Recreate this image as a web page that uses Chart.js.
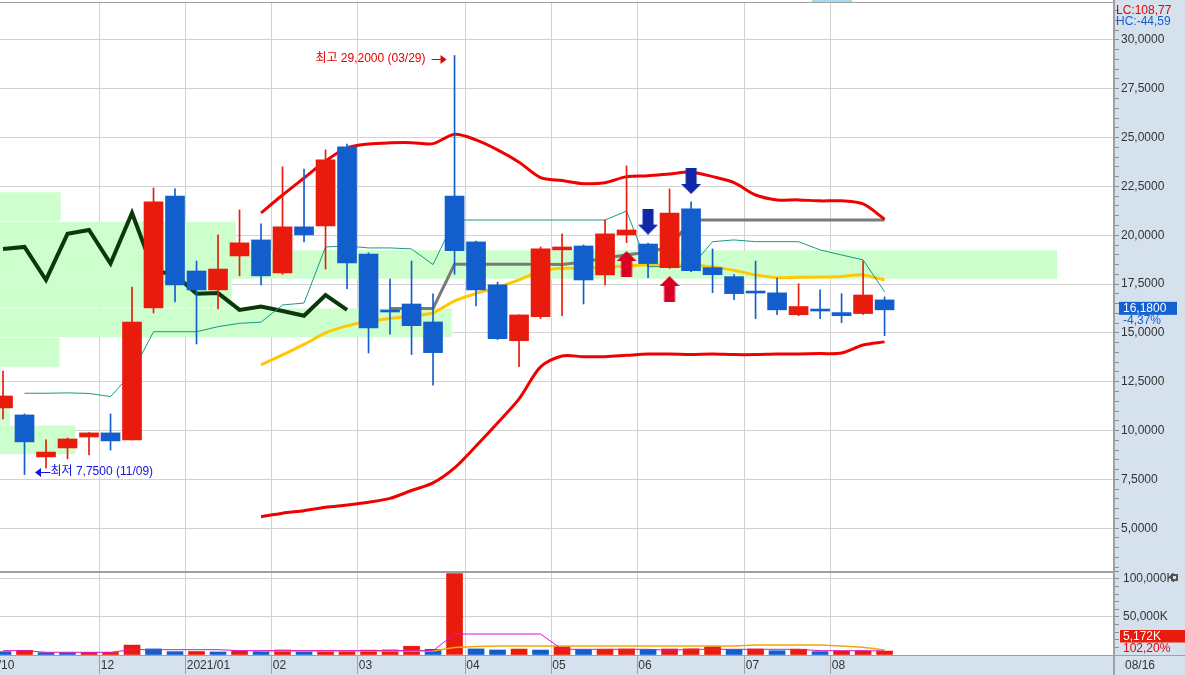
<!DOCTYPE html>
<html lang="ko">
<head>
<meta charset="utf-8">
<title>주봉 차트</title>
<script src="https://cdn.jsdelivr.net/npm/chart.js@4.4.1/dist/chart.umd.min.js"></script>
<style>
  html, body { margin: 0; padding: 0; background: #fff; }
  #wrap { position: relative; width: 1185px; height: 675px; overflow: hidden; background: #fff; }
  #price { position: absolute; left: 0; top: 0; }
  #volume { position: absolute; left: 0; top: 571px; }
</style>
</head>
<body>
<div id="wrap">
  <canvas id="price" width="1185" height="571"></canvas>
  <canvas id="volume" width="1185" height="104"></canvas>
</div>
<script>
// weekly candles (week start dates)
const weeks = [
  '2020-11-02', '2020-11-09', '2020-11-16', '2020-11-23', '2020-11-30', '2020-12-07', '2020-12-14',
  '2020-12-21', '2020-12-28', '2021-01-04', '2021-01-11', '2021-01-18', '2021-01-25', '2021-02-01',
  '2021-02-08', '2021-02-15', '2021-02-22', '2021-03-01', '2021-03-08', '2021-03-15', '2021-03-22',
  '2021-03-29', '2021-04-05', '2021-04-12', '2021-04-19', '2021-04-26', '2021-05-03', '2021-05-10',
  '2021-05-17', '2021-05-24', '2021-05-31', '2021-06-07', '2021-06-14', '2021-06-21', '2021-06-28',
  '2021-07-05', '2021-07-12', '2021-07-19', '2021-07-26', '2021-08-02', '2021-08-09', '2021-08-16'
];

const openPrice = [11.16, 10.80, 8.65, 9.11, 9.67, 9.88, 9.52, 16.28, 22.01, 18.17, 17.20, 18.94, 19.76, 18.07,
  20.43, 20.48, 24.52, 19.04, 16.10, 16.48, 15.56, 22.01, 19.66, 17.46, 14.60, 15.83, 19.25, 19.45,
  17.97, 20.02, 19.55, 18.34, 21.35, 18.34, 17.88, 17.08, 17.05, 15.93, 16.16, 16.04, 15.99, 16.69];
const highPrice = [13.05, 10.85, 9.52, 9.62, 9.90, 10.85, 17.35, 22.42, 22.37, 18.68, 20.02, 21.30, 20.58, 23.50,
  23.39, 24.37, 24.67, 19.10, 17.76, 18.68, 17.00, 29.20, 19.70, 17.60, 15.92, 19.40, 20.07, 19.50,
  20.78, 23.55, 19.60, 22.37, 21.71, 19.30, 17.99, 18.68, 17.81, 17.52, 17.21, 17.01, 18.68, 16.84];
const lowPrice = [10.59, 7.75, 8.08, 8.55, 8.75, 9.00, 9.52, 16.02, 16.58, 14.43, 16.23, 17.92, 17.46, 18.00,
  19.66, 18.27, 17.26, 13.97, 14.94, 13.89, 12.32, 18.00, 16.38, 14.66, 13.27, 15.73, 15.88, 16.48,
  17.46, 19.62, 17.83, 18.30, 18.14, 17.06, 16.70, 15.73, 15.93, 15.88, 15.73, 15.52, 15.94, 14.86];
const closePrice = [11.77, 9.42, 8.90, 9.57, 9.88, 9.47, 15.56, 21.71, 17.46, 17.20, 18.27, 19.61, 17.92, 20.43,
  20.02, 23.86, 18.58, 15.25, 16.07, 15.37, 13.99, 19.21, 17.20, 14.71, 15.92, 19.30, 19.40, 17.71,
  20.07, 20.27, 18.55, 21.14, 18.19, 17.98, 17.01, 17.04, 16.18, 16.35, 16.12, 15.88, 16.94, 16.18];

// envelope bands (red), conversion line (teal), base line (gray), average (yellow), lagging line (dark green)
const upperBand = [null, null, null, null, null, null, null, null, null, null, null, null,
  21.14, 22.06, 22.93, 23.80, 24.47, 24.67, 24.73, 24.74, 24.69, 25.17, 24.88, 24.37, 23.74, 22.95,
  22.80, 22.64, 22.69, 23.00, 23.05, 23.14, 23.23, 23.00, 22.69, 22.06, 21.81, 21.81, 21.76, 21.76, 21.60, 20.82];
const lowerBand = [null, null, null, null, null, null, null, null, null, null, null, null,
  5.59, 5.77, 5.90, 6.07, 6.19, 6.33, 6.53, 6.93, 7.32, 8.09, 9.21, 10.39, 11.62, 13.26,
  13.82, 13.78, 13.78, 13.85, 13.92, 13.92, 13.90, 13.92, 13.89, 13.89, 13.92, 13.92, 13.94, 13.97, 14.38, 14.54];
const conversionLine = [null, 11.91, 11.91, 11.93, 11.90, 11.74, 12.95, 15.06, 15.06, 15.06, 15.32, 15.49, 15.55,
  16.43, 16.53, 19.40, 19.45, 19.35, 19.35, 19.30, 18.50, 20.78, 20.78, 20.78, 20.78, 20.78, 20.78, 20.78,
  20.78, 21.24, 18.39, 18.39, 18.39, 19.67, 19.76, 19.67, 19.67, 19.67, 19.25, 18.99, 18.74, 17.11];
const baseLine = [null, null, null, null, null, null, null, null, null, null, null, null, null, null, null,
  null, null, null, 16.25, 16.25, 16.25, 18.51, 18.51, 18.51, 18.51, 18.51, 18.50, 18.63, 18.84, 18.99,
  19.14, 19.39, 20.78, 20.78, 20.78, 20.78, 20.78, 20.78, 20.78, 20.78, 20.78, 20.78];
const averageLine = [null, null, null, null, null, null, null, null, null, null, null, null,
  13.36, 13.87, 14.41, 15.00, 15.36, 15.60, 15.74, 15.87, 16.02, 16.64, 17.02, 17.33, 17.71, 18.17,
  18.31, 18.33, 18.36, 18.43, 18.48, 18.48, 18.48, 18.38, 18.20, 17.97, 17.83, 17.85, 17.86, 17.89, 17.97, 17.71];
const laggingLine = [19.30, 19.40, 17.71, 20.07, 20.27, 18.55, 21.14, 18.19, 17.98, 17.01, 17.04, 16.18,
  16.35, 16.12, 15.88, 16.94, 16.18];

// volume by price (price band centre, share of the largest band in %)
const profilePrice = [21.47, 19.96, 18.50, 17.02, 15.51, 14.00, 12.49, 11.03, 9.52];
const profileVolume = [5.7, 22.3, 100, 21.9, 42.7, 5.6, 0, 0.9, 7.1];

// signal arrows
const buyWeeks = [29, 31];
const buyLevels = [18.53, 17.25];
const sellWeeks = [30, 32];
const sellLevels = [20.70, 22.78];

// weekly volume in K shares and its averages
const volume = [4400, 6200, 3100, 3000, 3200, 3300, 13000, 8000, 4400, 4600, 4000, 5300, 4400, 6600,
  4300, 4500, 4700, 6400, 6700, 11500, 7500, 107000, 8000, 6600, 7800, 6500, 10800, 7400, 7600, 7900,
  7300, 7900, 8100, 11000, 7400, 7900, 5600, 7600, 4400, 4800, 5061, 5172];
const volumeShort = [5700, 5700, 3600, 3600, 3600, 3600, 7000, 7000, 7000, 7000, 7000, 5700, 5700, 5700,
  5700, 5700, 5700, 5700, 5700, 5700, 5700, 27600, 27600, 27600, 27600, 27600, 7500, 7500, 7500, 7500,
  7500, 6200, 7500, 7500, 7500, 7500, 7500, 7500, 5700, 5700, 5700, 5300];
const volumeLong = [null, null, null, null, null, null, null, null, null, null, null, null,
  5300, 5300, 5300, 5300, 5300, 5300, 5300, 5300, 5300, 9900, 11200, 11800, 11800, 11800, 11800, 11800,
  11800, 11800, 11800, 11800, 11800, 11800, 11800, 13200, 13200, 13200, 13200, 11800, 10100, 6600];

// month marks on the time axis
const monthStarts = [5, 9, 13, 17, 22, 26, 30, 35, 39];
const monthLabels = ['12', '2021/01', '02', '03', '04', '05', '06', '07', '08'];

const lcValue = 108.77;
const hcValue = -44.59;
const changePct = -4.37;
const volumeRatioPct = 102.20;

const xMin = -0.14, xMax = 51.67;
const priceMin = 2.81, priceMax = 31.89;
const volumeMax = 110500;

const upColor = '#e81b0c';
const downColor = '#135ecd';
const panelColor = '#d6e1ee';
const gridColor = '#d2d2d2';
const frameColor = '#a0a0a0';
const numFont = "'Liberation Sans', sans-serif";
const textFont = "'Liberation Sans', 'Noto Sans CJK KR', sans-serif";

const fmt4 = v => v.toFixed(4).replace('.', ',');
const fmt2 = v => v.toFixed(2).replace('.', ',');
const mmdd = d => d.slice(5, 7) + '/' + d.slice(8, 10);
const isMajor = v => Math.abs(v / 2.5 - Math.round(v / 2.5)) < 1e-6;
const series = arr => arr.map((v, i) => ({ x: i, y: v }));

function makeArrow(color, down) {
    const c = document.createElement('canvas');
    c.width = 20;
    c.height = 26;
    const g = c.getContext('2d');
    if (down) {
        g.translate(0, 26);
        g.scale(1, -1);
    }
    g.fillStyle = color;
    g.beginPath();
    g.moveTo(10, 0);
    g.lineTo(20, 10);
    g.lineTo(15.5, 10);
    g.lineTo(15.5, 26);
    g.lineTo(4.5, 26);
    g.lineTo(4.5, 10);
    g.lineTo(0, 10);
    g.closePath();
    g.fill();
    return c;
}

function drawArrowHead(ctx, x, y, dir) {
    ctx.beginPath();
    ctx.moveTo(x, y);
    ctx.lineTo(x - 6 * dir, y - 4.5);
    ctx.lineTo(x - 6 * dir, y + 4.5);
    ctx.closePath();
    ctx.fill();
}

const candleColors = closePrice.map((c, i) => c >= openPrice[i] ? upColor : downColor);
const volumeColors = volume.map((v, i) => i > 0 && v > volume[i - 1] ? upColor : downColor);

// price pane frame, panel and annotations
const priceFrame = {
    id: 'priceFrame',
    beforeDraw(chart) {
        const { ctx, scales } = chart;
        ctx.save();
        ctx.fillStyle = panelColor;
        ctx.fillRect(scales.y.left, 0, chart.width - scales.y.left, chart.height);
        ctx.fillStyle = '#a6daf0';
        ctx.fillRect(812, 0, 40, 2);
        ctx.restore();
    },
    afterDraw(chart) {
        const { ctx, chartArea, scales: { x, y } } = chart;
        ctx.save();
        ctx.fillStyle = frameColor;
        ctx.fillRect(0, chartArea.top - 1, chartArea.right, 1);
        ctx.fillRect(chartArea.right - 1, 0, 2, chart.height);

        // highest / lowest marks
        const hiIdx = highPrice.indexOf(Math.max(...highPrice));
        const loIdx = lowPrice.indexOf(Math.min(...lowPrice));
        ctx.font = '12px ' + textFont;
        ctx.textBaseline = 'middle';

        const hx = x.getPixelForValue(hiIdx);
        const hy = y.getPixelForValue(highPrice[hiIdx]) + 3.5;
        ctx.fillStyle = '#e60000';
        ctx.strokeStyle = '#e60000';
        ctx.lineWidth = 1;
        ctx.textAlign = 'right';
        ctx.fillText('최고 ' + fmt4(highPrice[hiIdx]) + ' (' + mmdd(weeks[hiIdx]) + ')', hx - 29, hy);
        ctx.beginPath();
        ctx.moveTo(hx - 23, Math.round(hy) + 0.5);
        ctx.lineTo(hx - 12, Math.round(hy) + 0.5);
        ctx.stroke();
        drawArrowHead(ctx, hx - 8, Math.round(hy) + 0.5, 1);

        const lx = x.getPixelForValue(loIdx);
        const ly = y.getPixelForValue(lowPrice[loIdx]) - 2.5;
        ctx.fillStyle = '#1414e0';
        ctx.strokeStyle = '#1414e0';
        ctx.textAlign = 'left';
        ctx.fillText('최저 ' + fmt4(lowPrice[loIdx]) + ' (' + mmdd(weeks[loIdx]) + ')', lx + 26, ly);
        ctx.beginPath();
        ctx.moveTo(lx + 16, Math.round(ly) + 0.5);
        ctx.lineTo(lx + 26, Math.round(ly) + 0.5);
        ctx.stroke();
        drawArrowHead(ctx, lx + 10.5, Math.round(ly) + 0.5, -1);

        // right panel texts
        const px = chartArea.right + 2;
        ctx.font = '12px ' + numFont;
        ctx.fillStyle = '#e60000';
        ctx.fillText('LC:' + fmt2(lcValue), px, 11);
        ctx.fillStyle = '#1560d0';
        ctx.fillText('HC:' + fmt2(hcValue), px, 22);

        const last = closePrice[closePrice.length - 1];
        const by = y.getPixelForValue(last) - 1.5;
        ctx.fillStyle = '#1560d0';
        ctx.fillRect(chartArea.right + 5, by - 6.5, 58, 13);
        ctx.fillStyle = '#ffffff';
        ctx.fillText(fmt4(last), chartArea.right + 9, by);
        ctx.fillStyle = '#1560d0';
        ctx.fillText(fmt2(changePct) + '%', chartArea.right + 9, by + 12);
        ctx.restore();
    }
};

const volumeFrame = {
    id: 'volumeFrame',
    beforeDraw(chart) {
        const { ctx, chartArea } = chart;
        ctx.save();
        ctx.fillStyle = panelColor;
        ctx.fillRect(chartArea.right, 0, chart.width - chartArea.right, chart.height);
        ctx.fillRect(0, chartArea.bottom, chart.width, chart.height - chartArea.bottom);
        ctx.restore();
    },
    afterDraw(chart) {
        const { ctx, chartArea } = chart;
        ctx.save();
        ctx.fillStyle = frameColor;
        ctx.fillRect(0, 0, chartArea.right, 2);
        ctx.fillRect(chartArea.right - 1, 0, 2, chart.height);
        ctx.fillRect(0, chartArea.bottom, chart.width, 1);

        ctx.font = '12px ' + numFont;
        ctx.textBaseline = 'middle';
        ctx.textAlign = 'left';
        ctx.fillStyle = '#333';
        ctx.fillText('2020/10', -29, chartArea.bottom + 11);
        ctx.fillText(mmdd(weeks[weeks.length - 1]), chartArea.right + 11, chartArea.bottom + 11);

        // last volume box
        const lastVol = volume[volume.length - 1];
        ctx.fillStyle = upColor;
        ctx.fillRect(chartArea.right + 6, 59, chart.width - chartArea.right - 6, 12.5);
        ctx.fillStyle = '#ffffff';
        ctx.fillText(lastVol.toLocaleString('en-US') + 'K', chartArea.right + 9, 65.5);
        ctx.fillStyle = '#e60000';
        ctx.fillText(fmt2(volumeRatioPct) + '%', chartArea.right + 9, 77.5);

        // small panel button
        ctx.fillStyle = '#555';
        ctx.fillRect(chartArea.right + 57, 3, 7, 7);
        ctx.fillStyle = '#ddd';
        ctx.fillRect(chartArea.right + 59, 5, 3, 3);
        ctx.restore();
    }
};

const priceChart = new Chart(document.getElementById('price'), {
    type: 'bar',
    data: {
        datasets: [
            {
                type: 'scatter',
                data: buyWeeks.map((w, i) => ({ x: w, y: buyLevels[i] })),
                pointStyle: makeArrow('#d90024', false),
                order: 0
            },
            {
                type: 'scatter',
                data: sellWeeks.map((w, i) => ({ x: w, y: sellLevels[i] })),
                pointStyle: makeArrow('#1027a8', true),
                order: 0
            },
            {
                data: weeks.map((w, i) => ({ x: i, y: [openPrice[i], closePrice[i]] })),
                backgroundColor: candleColors,
                barThickness: 19,
                minBarLength: 2,
                grouped: false,
                borderWidth: 0,
                order: 1
            },
            {
                data: weeks.map((w, i) => ({ x: i, y: [lowPrice[i], highPrice[i]] })),
                backgroundColor: candleColors,
                barThickness: 1,
                grouped: false,
                borderWidth: 0,
                order: 2
            },
            { type: 'line', data: series(upperBand), borderColor: '#f00000', borderWidth: 3, tension: 0.3, pointRadius: 0, order: 3 },
            { type: 'line', data: series(lowerBand), borderColor: '#f00000', borderWidth: 3, tension: 0.3, pointRadius: 0, order: 3 },
            { type: 'line', data: series(baseLine), borderColor: '#7a7a7a', borderWidth: 3, tension: 0, pointRadius: 0, order: 4 },
            { type: 'line', data: series(conversionLine), borderColor: '#149a86', borderWidth: 1, tension: 0, pointRadius: 0, order: 4 },
            { type: 'line', data: series(averageLine), borderColor: '#ffc800', borderWidth: 3, tension: 0.2, pointRadius: 0, order: 4 },
            { type: 'line', data: series(laggingLine), borderColor: '#0a380a', borderWidth: 4, tension: 0, pointRadius: 0, order: 4 },
            {
                indexAxis: 'y',
                xAxisID: 'xz',
                yAxisID: 'y',
                data: profilePrice.map((p, i) => ({ y: p, x: profileVolume[i] })),
                backgroundColor: '#ccffcc',
                barThickness: 28,
                grouped: false,
                borderWidth: 0,
                order: 10
            }
        ]
    },
    options: {
        responsive: false,
        animation: false,
        devicePixelRatio: 1,
        layout: { autoPadding: false, padding: { top: 3, left: 0, right: 0, bottom: 0 } },
        plugins: { legend: { display: false }, tooltip: { enabled: false } },
        scales: {
            x: {
                type: 'linear',
                min: xMin,
                max: xMax,
                offset: false,
                afterBuildTicks: s => { s.ticks = monthStarts.map(i => ({ value: i - 0.5 })); },
                ticks: { display: false },
                grid: { color: gridColor, drawTicks: false, offset: false },
                border: { display: false },
                afterFit: s => { s.height = 0; s.paddingLeft = 0; s.paddingRight = 0; }
            },
            xz: {
                type: 'linear',
                axis: 'x',
                position: 'top',
                min: 0,
                max: 105.4,
                offset: false,
                ticks: { display: false },
                grid: { display: false, drawTicks: false },
                border: { display: false },
                afterFit: s => { s.height = 0; s.paddingLeft = 0; s.paddingRight = 0; }
            },
            y: {
                position: 'right',
                min: priceMin,
                max: priceMax,
                offset: false,
                afterBuildTicks: s => {
                    const t = [];
                    for (let v = 3; v <= 31.5; v += 0.5) t.push({ value: v });
                    s.ticks = t;
                },
                ticks: {
                    autoSkip: false,
                    padding: 2,
                    color: '#333',
                    font: { family: numFont, size: 12 },
                    callback: v => isMajor(v) ? fmt4(v) : ''
                },
                grid: {
                    offset: false,
                    color: c => c.tick && isMajor(c.tick.value) ? gridColor : 'rgba(0,0,0,0)',
                    tickColor: '#8c8c8c',
                    tickLength: 5
                },
                border: { color: frameColor, width: 2 },
                afterFit: s => { s.width = 71; s.paddingTop = 0; s.paddingBottom = 0; }
            }
        }
    },
    plugins: [priceFrame]
});

const volumeChart = new Chart(document.getElementById('volume'), {
    type: 'bar',
    data: {
        datasets: [
            {
                data: weeks.map((w, i) => ({ x: i, y: volume[i] })),
                backgroundColor: volumeColors,
                barThickness: 16,
                grouped: false,
                borderWidth: 0,
                order: 2
            },
            { type: 'line', data: series(volumeShort), borderColor: '#e010c8', borderWidth: 1, tension: 0, pointRadius: 0, order: 1 },
            { type: 'line', data: series(volumeLong), borderColor: '#f2a900', borderWidth: 1.5, tension: 0, pointRadius: 0, order: 1 }
        ]
    },
    options: {
        responsive: false,
        animation: false,
        devicePixelRatio: 1,
        layout: { autoPadding: false, padding: 0 },
        plugins: { legend: { display: false }, tooltip: { enabled: false } },
        scales: {
            x: {
                type: 'linear',
                min: xMin,
                max: xMax,
                offset: false,
                afterBuildTicks: s => { s.ticks = monthStarts.map(i => ({ value: i - 0.5 })); },
                ticks: {
                    autoSkip: false,
                    maxRotation: 0,
                    align: 'start',
                    labelOffset: 1,
                    padding: -16,
                    color: '#333',
                    font: { family: numFont, size: 12 },
                    callback: (v, idx) => monthLabels[idx]
                },
                grid: { color: gridColor, tickColor: frameColor, tickLength: 19, offset: false },
                border: { color: frameColor },
                afterFit: s => { s.height = 20; s.paddingLeft = 0; s.paddingRight = 0; }
            },
            y: {
                position: 'right',
                min: 0,
                max: volumeMax,
                afterBuildTicks: s => {
                    const t = [];
                    for (let v = 0; v <= 110000; v += 10000) t.push({ value: v });
                    s.ticks = t;
                },
                ticks: {
                    autoSkip: false,
                    padding: 4,
                    color: '#333',
                    font: { family: numFont, size: 12 },
                    callback: v => v > 0 && v % 50000 === 0 ? v.toLocaleString('en-US') + 'K' : ''
                },
                grid: {
                    color: c => c.tick && c.tick.value > 0 && c.tick.value % 50000 === 0 ? gridColor : 'rgba(0,0,0,0)',
                    tickColor: '#8c8c8c',
                    tickLength: 5
                },
                border: { color: frameColor, width: 2 },
                afterFit: s => { s.width = 71; s.paddingTop = 0; s.paddingBottom = 0; }
            }
        }
    },
    plugins: [volumeFrame]
});
</script>
</body>
</html>
